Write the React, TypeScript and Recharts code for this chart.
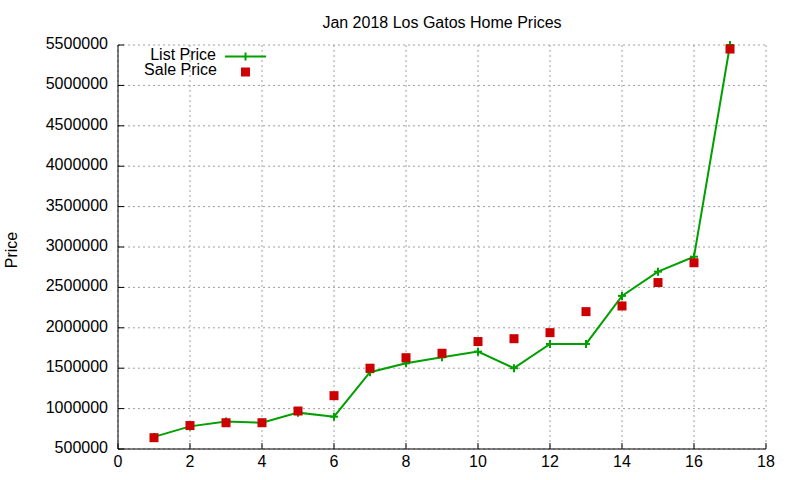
import { CartesianGrid, Line, LineChart, XAxis, YAxis } from 'recharts';

const months = [1, 2, 3, 4, 5, 6, 7, 8, 9, 10, 11, 12, 13, 14, 15, 16, 17];
const listPrice = [
  650000, 780000, 840000, 825000, 950000, 900000, 1450000, 1560000, 1635000, 1705000, 1500000, 1800000, 1800000,
  2395000, 2695000, 2880000, 5500000,
];
const salePrice = [
  640000, 790000, 825000, 825000, 970000, 1160000, 1500000, 1630000, 1685000, 1830000, 1865000, 1940000, 2200000,
  2270000, 2560000, 2805000, 5450000,
];
const xTicks = [0, 2, 4, 6, 8, 10, 12, 14, 16, 18];
const yTicks = [500000, 1000000, 1500000, 2000000, 2500000, 3000000, 3500000, 4000000, 4500000, 5000000, 5500000];

const data = months.map((m, i) => ({ x: m, list: listPrice[i], sale: salePrice[i] }));

const FONT = '"Liberation Sans", Arial, sans-serif';
const GREEN = '#00a000';
const RED = '#cc0000';
const TICK = 6;

const BottomTick = ({ x, y, payload }: any) => (
  <g>
    <line x1={x} y1={y} x2={x} y2={y - TICK} stroke="#000" />
    <text x={x} y={y + 18} textAnchor="middle" fontSize={16} fontFamily={FONT} fill="#000">
      {payload.value}
    </text>
  </g>
);

const TopTick = ({ x, y }: any) => <line x1={x} y1={y} x2={x} y2={y + TICK} stroke="#000" />;

const LeftTick = ({ x, y, payload }: any) => (
  <g>
    <line x1={x} y1={y} x2={x + TICK} y2={y} stroke="#000" />
    <text x={x - 10} y={y + 4} textAnchor="end" fontSize={16} fontFamily={FONT} fill="#000">
      {payload.value}
    </text>
  </g>
);

const RightTick = ({ x, y }: any) => <line x1={x} y1={y} x2={x - TICK} y2={y} stroke="#000" />;

const PlusDot = ({ cx, cy }: any) => (
  <g>
    <line x1={cx - 4} y1={cy} x2={cx + 4} y2={cy} stroke={GREEN} strokeWidth={2} />
    <line x1={cx} y1={cy - 4} x2={cx} y2={cy + 4} stroke={GREEN} strokeWidth={2} />
  </g>
);

const SquareDot = ({ cx, cy }: any) => <rect x={cx - 4.5} y={cy - 4.5} width={9} height={9} fill={RED} />;

const PriceLabel = ({ viewBox }: any) => {
  const cy = viewBox.y + viewBox.height / 2 + 3;
  return (
    <text x={17} y={cy} transform={`rotate(-90, 17, ${cy})`} textAnchor="middle" fontSize={16} fontFamily={FONT} fill="#000">
      Price
    </text>
  );
};

export default function App() {
  return (
    <div style={{ position: 'absolute', left: 0, top: 0, width: 800, height: 480, background: '#fff' }}>
      <LineChart width={800} height={480} data={data} margin={{ top: 45, right: 34, bottom: 0, left: 0 }}>
        <CartesianGrid stroke="#a0a0a0" strokeDasharray="2 3" />
        <XAxis
          type="number"
          dataKey="x"
          domain={[0, 18]}
          ticks={xTicks}
          height={31}
          tickSize={0}
          tickMargin={0}
          tick={<BottomTick />}
          axisLine={{ stroke: '#000' }}
        />
        <XAxis
          xAxisId="top"
          orientation="top"
          type="number"
          dataKey="x"
          domain={[0, 18]}
          ticks={xTicks}
          height={0}
          tickSize={0}
          tickMargin={0}
          tick={<TopTick />}
          axisLine={{ stroke: '#000' }}
        />
        <YAxis
          type="number"
          domain={[500000, 5500000]}
          ticks={yTicks}
          width={118}
          tickSize={0}
          tickMargin={0}
          tick={<LeftTick />}
          axisLine={{ stroke: '#000' }}
          label={{ content: <PriceLabel /> }}
        />
        <YAxis
          yAxisId="right"
          orientation="right"
          type="number"
          domain={[500000, 5500000]}
          ticks={yTicks}
          width={0}
          tickSize={0}
          tickMargin={0}
          tick={<RightTick />}
          axisLine={{ stroke: '#000' }}
        />
        <Line dataKey="list" stroke={GREEN} strokeWidth={2} dot={<PlusDot />} activeDot={false} isAnimationActive={false} />
        <Line dataKey="sale" stroke="none" dot={<SquareDot />} activeDot={false} isAnimationActive={false} />
      </LineChart>
      <svg width={800} height={100} style={{ position: 'absolute', left: 0, top: 0, pointerEvents: 'none' }}>
        <text x={442} y={28} textAnchor="middle" fontSize={16} fontFamily={FONT} fill="#000">
          Jan 2018 Los Gatos Home Prices
        </text>
        <text x={216} y={60} textAnchor="end" fontSize={16} fontFamily={FONT} fill="#000">
          List Price
        </text>
        <line x1={225} y1={56.5} x2={266} y2={56.5} stroke={GREEN} strokeWidth={2} />
        <line x1={245.5} y1={52.5} x2={245.5} y2={60.5} stroke={GREEN} strokeWidth={2} />
        <text x={217} y={75} textAnchor="end" fontSize={16} fontFamily={FONT} fill="#000">
          Sale Price
        </text>
        <rect x={241} y={67.5} width={9} height={9} fill={RED} />
      </svg>
    </div>
  );
}
